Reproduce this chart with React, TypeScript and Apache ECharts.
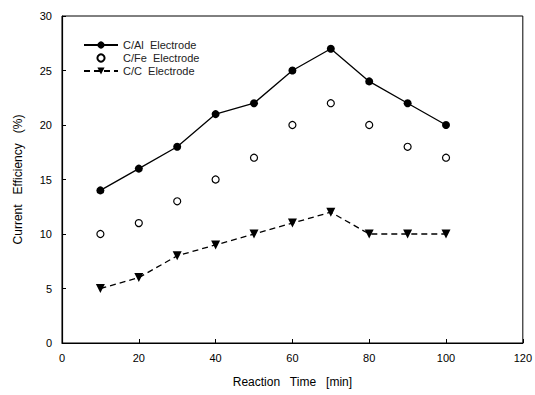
import React, { useEffect, useRef } from "react";
import * as echarts from "echarts";

const times = [10, 20, 30, 40, 50, 60, 70, 80, 90, 100];
const cAl = [14, 16, 18, 21, 22, 25, 27, 24, 22, 20];
const cFe = [10, 11, 13, 15, 17, 20, 22, 20, 18, 17];
const cC = [5, 6, 8, 9, 10, 11, 12, 10, 10, 10];
const seriesNames = ["C/Al  Electrode", "C/Fe  Electrode", "C/C  Electrode"];

export default function App() {
  const ref = useRef<HTMLDivElement>(null);
  useEffect(() => {
    if (!ref.current) return;
    const chart = echarts.init(ref.current, undefined, { renderer: "svg" });
    const font = "'Liberation Sans', Arial, sans-serif";
    const pair = (ys: number[]) => times.map((t, i) => [t, ys[i]]);
    chart.setOption({
      animation: false,
      backgroundColor: "#fff",
      textStyle: { fontFamily: font, color: "#000" },
      grid: { left: 62, right: 12, top: 16, bottom: 52, show: true, borderColor: "#000", borderWidth: 1 },
      legend: {
        orient: "vertical",
        left: 78,
        top: 34,
        itemWidth: 34,
        itemHeight: 9,
        itemGap: 1,
        textStyle: { fontFamily: font, fontSize: 11, color: "#222", lineHeight: 12 },
        data: seriesNames,
      },
      xAxis: {
        type: "value",
        min: 0,
        max: 120,
        interval: 20,
        name: "Reaction   Time   [min]",
        nameLocation: "middle",
        nameGap: 33,
        nameTextStyle: { fontFamily: font, fontSize: 12, color: "#000" },
        axisLine: { lineStyle: { color: "#000", width: 1.2 } },
        axisTick: { inside: true, length: 4, lineStyle: { color: "#000" } },
        axisLabel: { fontFamily: font, fontSize: 11, color: "#000", margin: 9 },
        splitLine: { show: false },
      },
      yAxis: {
        type: "value",
        min: 0,
        max: 30,
        interval: 5,
        name: "Current   Efficiency   (%)",
        nameLocation: "middle",
        nameGap: 38,
        nameTextStyle: { fontFamily: font, fontSize: 12, color: "#000" },
        axisLine: { lineStyle: { color: "#000", width: 1.2 } },
        axisTick: { inside: true, length: 4, lineStyle: { color: "#000" } },
        axisLabel: { fontFamily: font, fontSize: 11, color: "#000", margin: 10 },
        splitLine: { show: false },
      },
      series: [
        {
          name: seriesNames[0],
          type: "line",
          data: pair(cAl),
          symbol: "circle",
          symbolSize: 8,
          itemStyle: { color: "#000" },
          lineStyle: { color: "#000", width: 1.3 },
        },
        {
          name: seriesNames[1],
          type: "line",
          data: pair(cFe),
          symbol: "circle",
          symbolSize: 7,
          showAllSymbol: true,
          itemStyle: { color: "#fff", borderColor: "#000", borderWidth: 1.2 },
          lineStyle: { width: 0, opacity: 0 },
        },
        {
          name: seriesNames[2],
          type: "line",
          data: pair(cC),
          symbol: "triangle",
          symbolRotate: 180,
          symbolSize: 9,
          itemStyle: { color: "#000" },
          lineStyle: { color: "#000", width: 1.3, type: [6, 4] },
        },
      ],
    });
    return () => chart.dispose();
  }, []);
  return <div ref={ref} style={{ width: 535, height: 395, position: "absolute", left: 0, top: 0 }} />;
}
